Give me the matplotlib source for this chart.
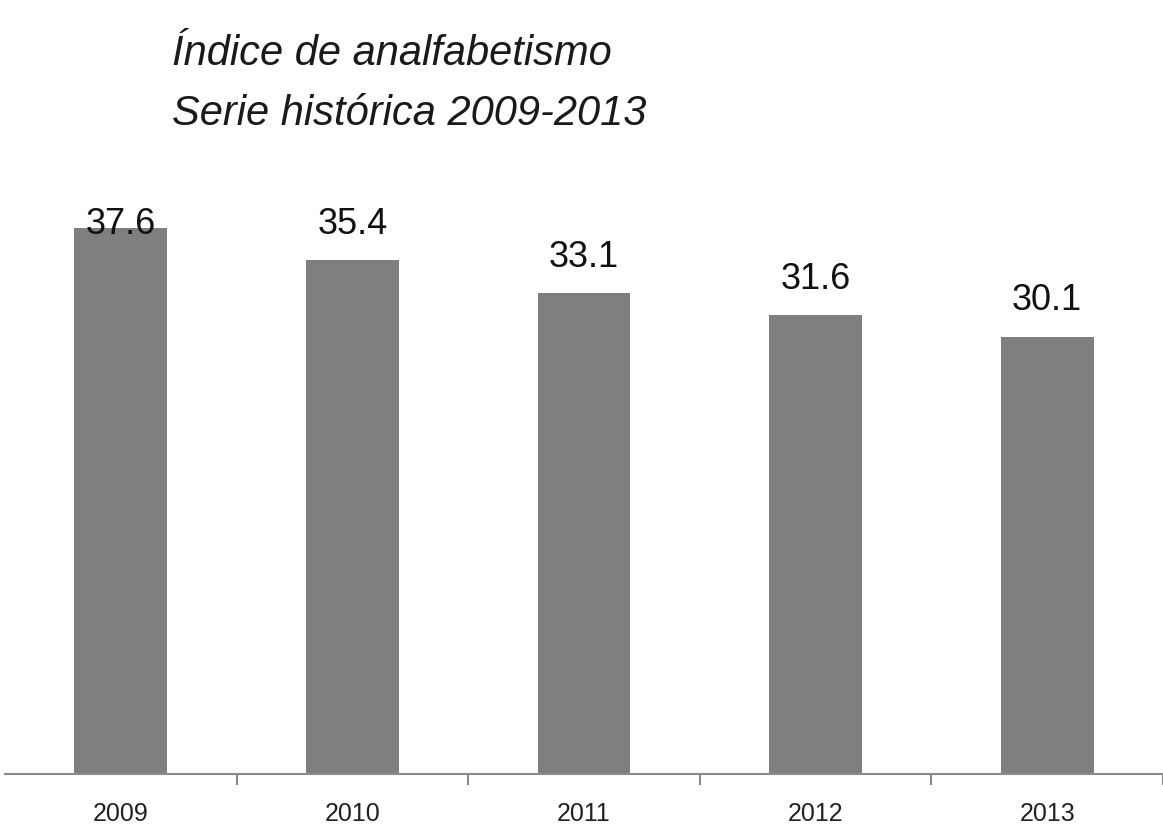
import numpy as np
import matplotlib
matplotlib.use("Agg")
import matplotlib.pyplot as plt

# data
years = ["2009", "2010", "2011", "2012", "2013"]
rates = [37.6, 35.4, 33.1, 31.6, 30.1]
title_lines = ["Índice de analfabetismo", "Serie histórica 2009-2013"]

plt.rcParams['font.family'] = ['Liberation Sans', 'DejaVu Sans']

fig = plt.figure(figsize=(11.63, 8.27), dpi=100)
ax = fig.add_axes([5 / 1163, 53 / 827, 1158 / 1163, 574 / 827])

x = np.arange(len(years))
ax.bar(x, rates, width=0.4, color="#7f7f7f", zorder=2)

ax.set_xlim(-0.5, len(years) - 0.5)
ax.set_ylim(0, 39.5)

# value labels above bars (first one pushed down by the plot top)
for xi, v in zip(x, rates):
    ax.text(xi, min(v + 1.25, 36.6), f"{v:.1f}", ha="center", va="bottom",
            fontsize=26, color="#111111", zorder=3)

for side in ["top", "right", "left"]:
    ax.spines[side].set_visible(False)
ax.spines["bottom"].set_color("#8a8a8a")
ax.spines["bottom"].set_linewidth(1.5)

ax.set_yticks([])
ax.set_xticks(x)
ax.set_xticklabels(years, fontsize=18, color="#222222")
ax.tick_params(axis="x", which="major", length=0, pad=20)
# small ticks between the categories
ax.set_xticks(x + 0.5, minor=True)
ax.tick_params(axis="x", which="minor", length=8, width=1.5, color="#8a8a8a",
               direction="out")

fig.text(172 / 1163, 1 - 65 / 827, title_lines[0], fontsize=30,
         style="italic", ha="left", va="baseline", color="#1a1a1a")
fig.text(172 / 1163, 1 - 125 / 827, title_lines[1], fontsize=30,
         style="italic", ha="left", va="baseline", color="#1a1a1a")

fig.savefig("out.png", dpi=100, facecolor="white")
